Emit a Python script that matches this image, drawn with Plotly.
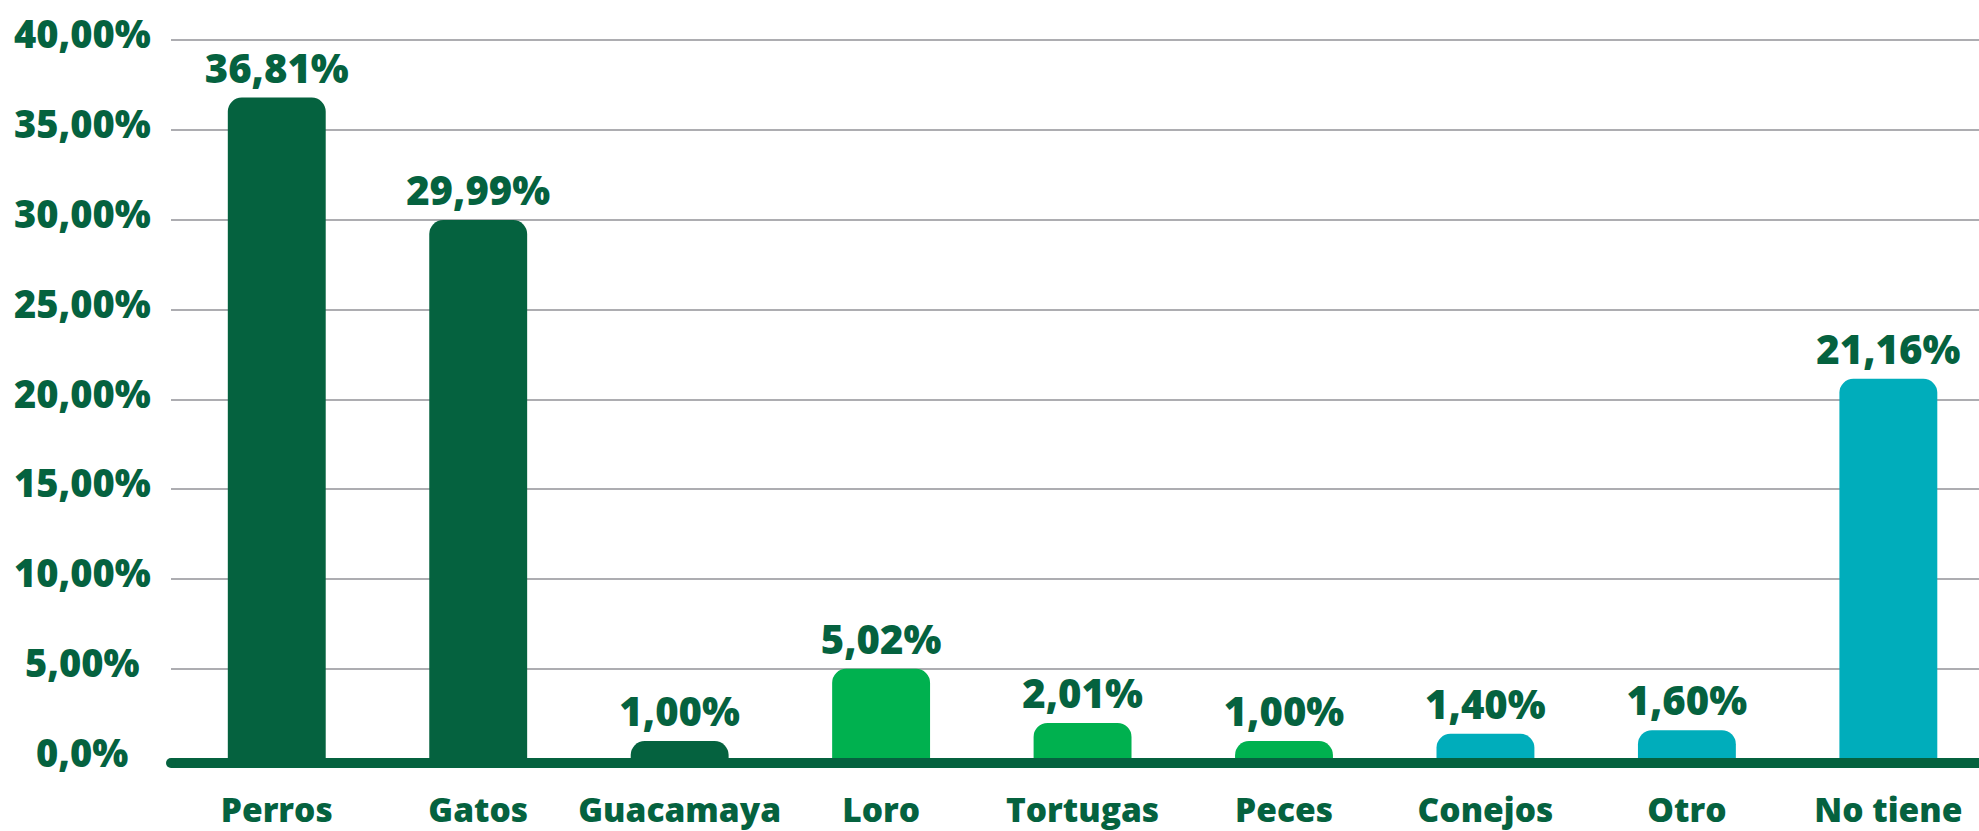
import plotly.graph_objects as go

categories = ["Perros", "Gatos", "Guacamaya", "Loro", "Tortugas", "Peces", "Conejos", "Otro", "No tiene"]
values = [36.81, 29.99, 1.00, 5.02, 2.01, 1.00, 1.40, 1.60, 21.16]
bar_colors = ["#05623F", "#05623F", "#05623F", "#00B14F", "#00B14F", "#00B14F", "#00ADBB", "#00ADBB", "#00ADBB"]
ytick_values = [0, 5, 10, 15, 20, 25, 30, 35, 40]
ytick_labels = ["0,0%", "5,00%", "10,00%", "15,00%", "20,00%", "25,00%", "30,00%", "35,00%", "40,00%"]

DARK = "#05623F"
FONT = "Open Sans"
value_labels = [f"{v:.2f}".replace(".", ",") + "%" for v in values]

fig = go.Figure()
fig.add_trace(go.Bar(
    x=categories,
    y=values,
    width=0.486,
    marker=dict(color=bar_colors, cornerradius=14, line=dict(width=0)),
    text=value_labels,
    textposition="outside",
    constraintext="none",
    cliponaxis=False,
    textfont=dict(family=FONT, size=40, color=DARK, weight=800),
    hoverinfo="skip",
))

# baseline
fig.add_shape(type="line", xref="paper", yref="y", x0=0, x1=1, y0=-0.22, y1=-0.22,
              line=dict(color=DARK, width=10), layer="above")
fig.add_shape(type="circle", xref="paper", yref="y", xsizemode="pixel", ysizemode="pixel",
              xanchor=0, yanchor=-0.22, x0=-5, x1=5, y0=-5, y1=5,
              fillcolor=DARK, line=dict(width=0), layer="above")

# centered y tick labels
for v, lab in zip(ytick_values, ytick_labels):
    fig.add_annotation(x=-0.0492, xref="paper", y=v, yref="y", text=lab, showarrow=False,
                       xanchor="center", yanchor="middle", yshift=7,
                       font=dict(family=FONT, size=38, color=DARK, weight=800))

fig.update_layout(
    width=1979, height=831,
    margin=dict(l=171, r=0, t=0, b=56),
    paper_bgcolor="white", plot_bgcolor="white",
    showlegend=False,
    xaxis=dict(range=[-0.525, 8.45], showgrid=False, zeroline=False, showline=False,
               ticks="", ticklabelstandoff=12,
               tickfont=dict(family=FONT, size=33.5, color=DARK, weight=800)),
    yaxis=dict(range=[-0.89, 42.24], tickvals=ytick_values, showticklabels=False,
               showgrid=True, gridcolor="#ADADB1", gridwidth=2, zeroline=False, showline=False),
)

fig.write_html("out.html", config={"displayModeBar": False},
               post_script="document.body.style.margin='0';document.body.style.overflow='hidden';")
